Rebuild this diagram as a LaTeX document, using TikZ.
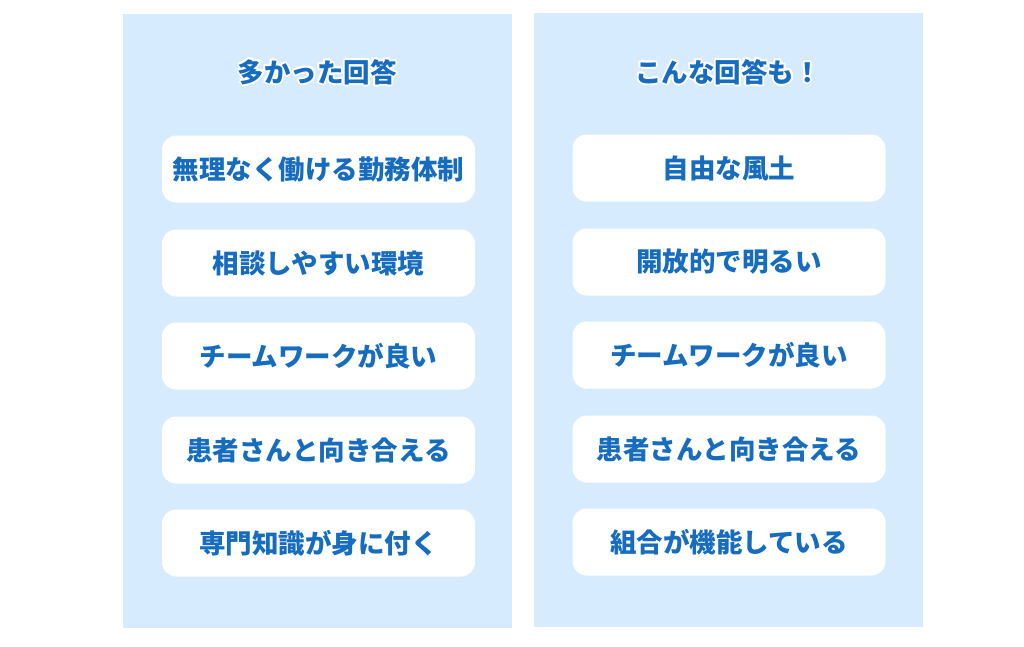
\documentclass[tikz,border=0pt]{standalone}
\usepackage{fontspec}
\newfontfamily\cjk{Noto Sans CJK JP}
\usetikzlibrary{positioning}
\definecolor{panelblue}{RGB}{214,235,253}
\definecolor{textblue}{RGB}{22,108,190}
\tikzset{
	panel/.style={fill=panelblue,draw=none},
	answer/.style={fill=white,rounded corners=14pt,minimum width=313pt,minimum height=67pt,inner sep=0pt,
		text=textblue,font=\cjk\bfseries\fontsize{26.5}{30}\selectfont},
	heading/.style={text=textblue,inner sep=0pt,font=\cjk\bfseries\fontsize{26.5}{30}\selectfont},
	halo/.style={text=white,inner sep=0pt,font=\cjk\bfseries\fontsize{26.5}{30}\selectfont}
}
\begin{document}
\begin{tikzpicture}[x=1pt,y=-1pt]
		\useasboundingbox (0,0) rectangle (1024,646);
		\fill[white] (0,0) rectangle (1024,646);

		\draw[panel] (123,14) rectangle (512,628);
		\draw[panel] (534,13) rectangle (923,627);

		% titles with white halo
		\foreach \dx/\dy in {2/0,-2/0,0/2,0/-2,1.5/1.5,-1.5/1.5,1.5/-1.5,-1.5/-1.5}{
			\node[halo] at (317+\dx,72+\dy) {多かった回答};
			\node[halo] at (728+\dx,72+\dy) {こんな回答も！};
		}
		\node[heading] (ltitle) at (317,72) {多かった回答};
		\node[heading] (rtitle) at (728,72) {こんな回答も！};

		% left column
		\node[answer] (l1) at (318.5,169) {無理なく働ける勤務体制};
		\node[answer] (l2) at (318.5,263) {相談しやすい環境};
		\node[answer] (l3) at (318.5,356) {チームワークが良い};
		\node[answer] (l4) at (318.5,450) {患者さんと向き合える};
		\node[answer] (l5) at (318.5,543) {専門知識が身に付く};

		% right column
		\node[answer] (r1) at (729,168) {自由な風土};
		\node[answer] (r2) at (729,262) {開放的で明るい};
		\node[answer] (r3) at (729,355) {チームワークが良い};
		\node[answer] (r4) at (729,449) {患者さんと向き合える};
		\node[answer] (r5) at (729,542) {組合が機能している};
	\end{tikzpicture}
\end{document}
